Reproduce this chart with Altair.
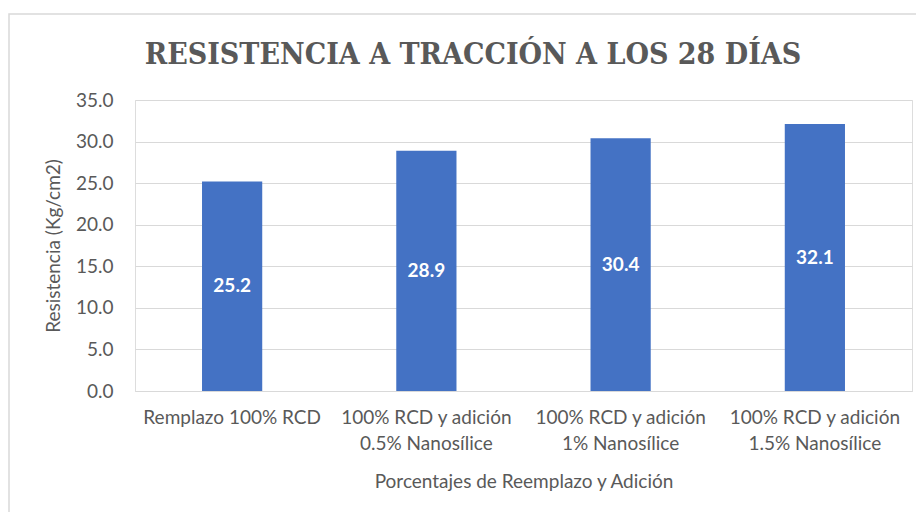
import altair as alt
import pandas as pd

categories = [
    "Remplazo 100% RCD",
    "100% RCD y adición\n0.5% Nanosílice",
    "100% RCD y adición\n1% Nanosílice",
    "100% RCD y adición\n1.5% Nanosílice",
]
values = [25.2, 28.9, 30.4, 32.1]
y_ticks = [0, 5, 10, 15, 20, 25, 30, 35]

title_text = "RESISTENCIA A TRACCIÓN A LOS 28 DÍAS"
x_title = "Porcentajes de Reemplazo y Adición"
y_title = "Resistencia (Kg/cm2)"

df = pd.DataFrame({"cat": categories, "val": values})
df["mid"] = df["val"] / 2
df["lbl"] = df["val"].map(lambda v: f"{v:.1f}")

W, H = 777, 291
FONT = "Lato"
GRAY = "#595959"

x_enc = alt.X(
    "cat:N",
    sort=categories,
    scale=alt.Scale(paddingInner=0.69, paddingOuter=0.345),
    axis=alt.Axis(
        title=x_title,
        labelAngle=0,
        labelExpr="split(datum.label, '\\n')",
        labelFont=FONT,
        labelFontSize=19,
        labelColor=GRAY,
        labelLineHeight=26,
        labelPadding=17,
        labelBaseline="top",
        ticks=False,
        domainColor="#d9d9d9",
        titleFont=FONT,
        titleFontSize=19,
        titleFontWeight="normal",
        titleColor=GRAY,
        titlePadding=19,
        labelLimit=300,
    ),
)

bars = alt.Chart(df).mark_bar(color="#4472C4").encode(
    x=x_enc,
    y=alt.Y(
        "val:Q",
        scale=alt.Scale(domain=[0, 35], nice=False),
        axis=alt.Axis(
            title=y_title,
            values=y_ticks,
            format=".1f",
            labelFont=FONT,
            labelFontSize=19,
            labelColor=GRAY,
            labelPadding=22,
            ticks=False,
            domain=False,
            gridColor="#d9d9d9",
            titleFont=FONT,
            titleFontSize=19,
            titleFontWeight="normal",
            titleColor=GRAY,
            titlePadding=12,
        ),
    ),
)

labels = alt.Chart(df).mark_text(
    color="white", font=FONT, fontSize=19, fontWeight="bold", baseline="middle"
).encode(
    x=alt.X("cat:N", sort=categories),
    y=alt.Y("mid:Q"),
    text="lbl:N",
)

border = alt.Chart(pd.DataFrame({"a": [0]})).mark_rect(
    fill=None, stroke="#d9d9d9", strokeWidth=1.5
).encode(
    x=alt.value(-126), x2=alt.value(W + 30),
    y=alt.value(-86), y2=alt.value(H + 160),
)

title = alt.Chart(pd.DataFrame({"t": [title_text]})).mark_text(
    font="DejaVu Serif Condensed, DejaVu Serif",
    fontSize=30,
    fontWeight="bold",
    color=GRAY,
    baseline="alphabetic",
    align="center",
).encode(
    x=alt.value(473 - 135),
    y=alt.value(64 - 100),
    text="t:N",
)

chart = alt.layer(border, bars, labels, title).properties(
    width=W,
    height=H,
    autosize=alt.AutoSizeParams(type="none"),
    padding={"left": 127, "top": 92, "right": 4, "bottom": 121},
).configure_view(stroke=None).configure(background="white")

chart.save("out.html", embed_options={"renderer": "svg", "actions": False})
